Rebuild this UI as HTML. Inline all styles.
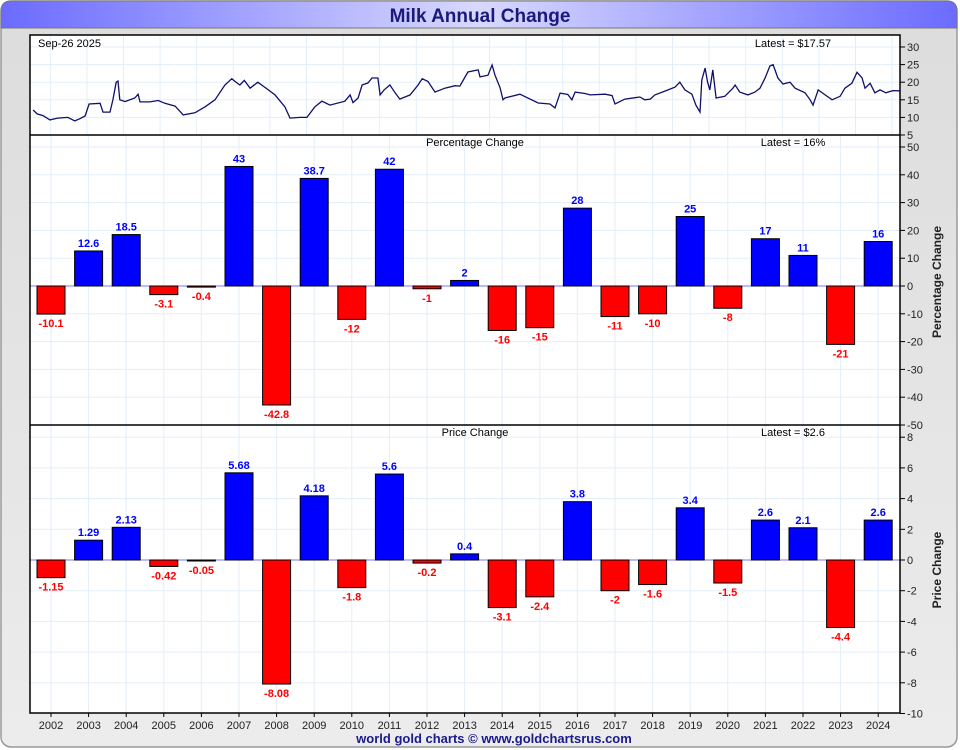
<!DOCTYPE html>
<html><head><meta charset="utf-8"><style>
html,body{margin:0;padding:0;background:#fff;}
svg{display:block;font-family:"Liberation Sans",sans-serif;}
</style></head><body>
<svg id="chart" width="960" height="750" viewBox="0 0 960 750">
<defs>
<linearGradient id="tg" x1="0" x2="1" y1="0" y2="0">
<stop offset="0" stop-color="#6b6bff"/><stop offset="0.5" stop-color="#d8d8ff"/><stop offset="1" stop-color="#6b6bff"/></linearGradient>
<linearGradient id="bg" x1="0" x2="0" y1="0" y2="1">
<stop offset="0" stop-color="#dcdcdc"/><stop offset="1" stop-color="#ececec"/></linearGradient>
</defs>
<rect x="1" y="1" width="956" height="746" rx="10" fill="url(#bg)" stroke="#999" stroke-width="1.5"/>
<path d="M1,28 L1,11 Q1,1 11,1 L947,1 Q957,1 957,11 L957,28 Z" fill="url(#tg)" stroke="#777"/>
<text x="480" y="22" text-anchor="middle" font-size="19" font-weight="bold" fill="#1a1a7a">Milk Annual Change</text>
<rect x="30" y="35" width="870" height="678" fill="#fff"/>
<g id="grid"></g>
<g id="marks"></g>
<line x1="30" y1="135" x2="900" y2="135" stroke="#000" stroke-width="1.5"/>
<line x1="30" y1="425" x2="900" y2="425" stroke="#000" stroke-width="1.5"/>
<rect x="30" y="35" width="870" height="678" fill="none" stroke="#000" stroke-width="1.5"/>
<g id="axes"></g>
<text x="38" y="47" font-size="11">Sep-26  2025</text>
<text x="793" y="47" text-anchor="middle" font-size="11">Latest = $17.57</text>
<text x="475" y="146" text-anchor="middle" font-size="11">Percentage Change</text>
<text x="793" y="146" text-anchor="middle" font-size="11">Latest = 16%</text>
<text x="475" y="436" text-anchor="middle" font-size="11">Price Change</text>
<text x="793" y="436" text-anchor="middle" font-size="11">Latest = $2.6</text>
<text transform="translate(941,282) rotate(-90)" text-anchor="middle" font-size="12" font-weight="bold" fill="#222">Percentage Change</text>
<text transform="translate(941,570) rotate(-90)" text-anchor="middle" font-size="12" font-weight="bold" fill="#222">Price Change</text>
<text x="494" y="743" text-anchor="middle" font-size="13" font-weight="bold" fill="#1a1a8a">world gold charts © www.goldchartsrus.com</text>
</svg>
<script>
const years = [2002,2003,2004,2005,2006,2007,2008,2009,2010,2011,2012,2013,2014,2015,2016,2017,2018,2019,2020,2021,2022,2023,2024];
const pctValues = [-10.1,12.6,18.5,-3.1,-0.4,43,-42.8,38.7,-12,42,-1,2,-16,-15,28,-11,-10,25,-8,17,11,-21,16];
const pctLabels = ["-10.1","12.6","18.5","-3.1","-0.4","43","-42.8","38.7","-12","42","-1","2","-16","-15","28","-11","-10","25","-8","17","11","-21","16"];
const priceChg = [-1.15,1.29,2.13,-0.42,-0.05,5.68,-8.08,4.18,-1.8,5.6,-0.2,0.4,-3.1,-2.4,3.8,-2,-1.6,3.4,-1.5,2.6,2.1,-4.4,2.6];
const priceLabels = ["-1.15","1.29","2.13","-0.42","-0.05","5.68","-8.08","4.18","-1.8","5.6","-0.2","0.4","-3.1","-2.4","3.8","-2","-1.6","3.4","-1.5","2.6","2.1","-4.4","2.6"];
const lineTimes = [2002.03,2002.14,2002.3,2002.49,2002.7,2002.98,2003.17,2003.3,2003.45,2003.56,2003.86,2003.94,2004.13,2004.21,2004.3,2004.35,2004.4,2004.54,2004.81,2004.9,2004.95,2005.22,2005.45,2005.63,2005.91,2006.13,2006.45,2006.73,2007.0,2007.27,2007.46,2007.55,2007.68,2007.8,2007.96,2008.17,2008.37,2008.64,2008.91,2009.05,2009.32,2009.51,2009.73,2009.92,2010.14,2010.55,2010.69,2010.77,2010.91,2011.02,2011.18,2011.29,2011.45,2011.51,2011.62,2011.78,2011.92,2012.05,2012.33,2012.55,2012.66,2012.82,2013.01,2013.28,2013.56,2013.69,2013.91,2014.19,2014.24,2014.46,2014.57,2014.65,2014.79,2014.87,2014.92,2015.33,2015.83,2016.15,2016.29,2016.43,2016.64,2016.75,2016.84,2017.11,2017.25,2017.66,2017.85,2017.93,2018.2,2018.61,2018.74,2018.89,2019.02,2019.3,2019.57,2019.7,2019.84,2020.03,2020.14,2020.25,2020.3,2020.39,2020.46,2020.52,2020.6,2020.69,2020.93,2021.15,2021.21,2021.34,2021.56,2021.75,2021.89,2022.03,2022.16,2022.25,2022.38,2022.52,2022.71,2022.85,2023.12,2023.26,2023.34,2023.48,2023.67,2023.86,2024.08,2024.21,2024.4,2024.54,2024.68,2024.76,2024.9,2025.03,2025.17,2025.33,2025.52,2025.7];
const linePrices = [12.1,11,10.5,9.3,9.8,10,9,9.6,10.4,13.8,14,11.5,11.5,15,20,20.3,15,14.5,15.5,16.6,14.4,14.4,14.8,14,13.2,10.7,11.3,13,15,19.2,21,20.2,19.2,20.5,18.3,20,18.5,16.4,13,9.8,10,10,13,14.6,13.5,14.6,16.4,14.2,15.5,19.2,19.8,21.2,21.2,16.4,17.8,19.2,17,15.2,16.4,19.2,21,20.2,17.2,18.3,19,18.9,22.9,23.5,21.5,22,24.9,22,18.4,15,15.5,16.6,14.1,13.8,12.7,16.9,16.5,15,17.2,16.8,16.4,16.6,16.2,13.8,15.2,15.8,15,15.2,16.4,17.5,18.6,20,17.8,16.6,13.5,11.5,20.6,24,20,17.8,23.5,15.5,16,18.3,19.2,17.2,16.4,17.2,18.3,21.2,24.6,25,21.2,19.5,20,18.3,17,15,13.5,17.8,16.4,15,16,18.3,19.7,22.8,21.2,18.3,19.7,17,17.8,17,17.6,17.57];
const topTicks = [5,10,15,20,25,30];
const pctTicks = [-50,-40,-30,-20,-10,0,10,20,30,40,50];
const priceTicks = [-10,-8,-6,-4,-2,0,2,4,6,8];

const NS="http://www.w3.org/2000/svg";
function mk(tag,attrs,parent,text){const e=document.createElementNS(NS,tag);for(const k in attrs)e.setAttribute(k,attrs[k]);if(text!==undefined)e.textContent=text;parent.appendChild(e);return e;}
const xYear = y => 51 + (y-2002)*37.6;
const xTime = t => 32 + (t-2002)*36.6;
const yTop = v => 135 - (v-5)*3.52;
const yPct = v => 286 - v*2.78;
const yPrice = v => 560 - v*15.35;
const grid=document.getElementById('grid'), marks=document.getElementById('marks'), axes=document.getElementById('axes');
const gc="#e3eef8";
for(let t=2002.5;t<2026;t+=1){const x=xTime(t);if(x<30||x>900)continue;mk('line',{x1:x,x2:x,y1:35,y2:135,stroke:gc},grid);}
topTicks.forEach(v=>{if(v>5)mk('line',{x1:30,x2:900,y1:yTop(v),y2:yTop(v),stroke:gc},grid);});
years.forEach(y=>{const x=xYear(y);mk('line',{x1:x,x2:x,y1:135,y2:713,stroke:gc},grid);});
pctTicks.forEach(v=>mk('line',{x1:30,x2:900,y1:yPct(v),y2:yPct(v),stroke:gc},grid));
priceTicks.forEach(v=>mk('line',{x1:30,x2:900,y1:yPrice(v),y2:yPrice(v),stroke:gc},grid));
let d='';lineTimes.forEach((t,i)=>{d+=(i?'L':'M')+xTime(t).toFixed(1)+','+yTop(linePrices[i]).toFixed(1);});
const pl=mk('path',{d:d,fill:'none',stroke:'#10106a','stroke-width':1.3},marks);


mk('line',{x1:30,x2:900,y1:yPct(0),y2:yPct(0),stroke:'#7777ff'},marks);
mk('line',{x1:30,x2:900,y1:yPrice(0),y2:yPrice(0),stroke:'#7777ff'},marks);
function bars(vals,labels,yf,name){
 vals.forEach((v,i)=>{
  const x=xYear(years[i])-14, y0=yf(0), y1=yf(v);
  const r=mk('rect',{x:x,y:Math.min(y0,y1),width:28,height:Math.max(1,Math.abs(y1-y0)),fill:v>=0?'#0000ff':'#ff0000',stroke:'#000','stroke-width':1},marks);
  
  
  const ty=v>=0?y1-4:y1+13;
  const tx=mk('text',{x:xYear(years[i]),y:ty,'text-anchor':'middle','font-size':11,'font-weight':'bold',fill:v>=0?'#0000ff':'#ff0000'},marks,labels[i]);
  
  
 });
}
bars(pctValues,pctLabels,yPct,'percentage');
bars(priceChg,priceLabels,yPrice,'price-change');
function ticks(arr,yf,name){arr.forEach(v=>{const y=yf(v);mk('line',{x1:900,x2:905,y1:y,y2:y,stroke:'#000'},axes);
 const t=mk('text',{x:907,y:y+4,'font-size':11,fill:'#222'},axes,String(v));
 
 });}
ticks(topTicks,yTop,'price-axis');
ticks(pctTicks,yPct,'percentage-axis');
ticks(priceTicks,yPrice,'price-change-axis');
years.forEach(y=>{const x=xYear(y);mk('line',{x1:x,x2:x,y1:713,y2:717,stroke:'#000'},axes);
 const t=mk('text',{x:x,y:729,'text-anchor':'middle','font-size':11,fill:'#222'},axes,String(y));
 
 });
</script>
</body></html>
